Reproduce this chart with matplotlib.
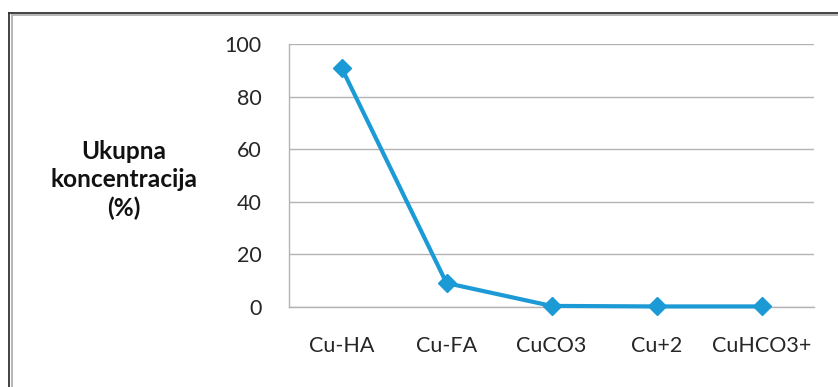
import matplotlib.pyplot as plt
from matplotlib.lines import Line2D

# podaci
kategorije = ['Cu-HA', 'Cu-FA', 'CuCO3', 'Cu+2', 'CuHCO3+']
koncentracija = [91, 9, 0.3, 0.1, 0.1]
y_oznaka = 'Ukupna\nkoncentracija\n(%)'

plt.rcParams['font.family'] = ['Lato', 'DejaVu Sans']

W, H = 838, 387
fig = plt.figure(figsize=(W / 100, H / 100), dpi=100)
renderer = fig.canvas.get_renderer()


def velicina(tekst, sirina_px, **kw):
    # fontsize tako da tekst ima zadanu sirinu u pikselima
    t = fig.text(0, 0, tekst, fontsize=10, **kw)
    w = t.get_window_extent(renderer).width
    t.remove()
    return 10 * sirina_px / w


fs_tick = velicina('Cu-HA', 65)
fs_lab = velicina('koncentracija', 147, fontweight='bold')

ax = fig.add_axes([289 / W, 1 - 306.7 / H, (814 - 289) / W, (306.7 - 44) / H])

x = range(len(kategorije))
ax.plot(x, koncentracija, color='#1C9AD6', lw=3, marker='D', ms=9.5,
        markerfacecolor='#1C9AD6', markeredgecolor='#1C9AD6', clip_on=False, zorder=3)

ax.set_xlim(-0.5, len(kategorije) - 0.5)
ax.set_ylim(0, 100)
ax.set_yticks(range(0, 101, 20))
ax.set_xticks(list(x))
ax.set_xticklabels(kategorije)
ax.tick_params(axis='both', length=0, labelsize=fs_tick, colors='#262626')
ax.tick_params(axis='y', pad=19.5)
ax.tick_params(axis='x', pad=21)
ax.grid(axis='y', color='#b3b3b3', lw=1)
ax.set_axisbelow(True)
for s in ['top', 'right']:
    ax.spines[s].set_visible(False)
for s in ['left', 'bottom']:
    ax.spines[s].set_color('#b3b3b3')
    ax.spines[s].set_linewidth(1)

fig.text(124 / W, 1 - 180 / H, y_oznaka, ha='center', va='center',
         fontsize=fs_lab, fontweight='bold', linespacing=1.25, color='#111111')

# okvir (vidljivi samo gornji i lijevi rub)
fig.add_artist(Line2D([9 / W, 1], [1 - 12.5 / H] * 2, transform=fig.transFigure,
                      color='#333333', lw=1.3))
fig.add_artist(Line2D([11.5 / W, 1], [1 - 14.5 / H] * 2, transform=fig.transFigure,
                      color='#b0b0b0', lw=1.3))
fig.add_artist(Line2D([9 / W] * 2, [0, 1 - 12.5 / H], transform=fig.transFigure,
                      color='#333333', lw=1.3))
fig.add_artist(Line2D([11.5 / W] * 2, [0, 1 - 14.5 / H], transform=fig.transFigure,
                      color='#b0b0b0', lw=1.3))

fig.savefig('out.png', dpi=100)
